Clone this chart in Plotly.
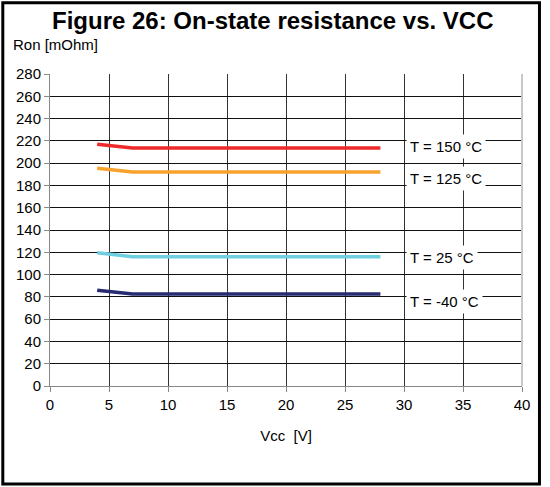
import plotly.graph_objects as go

vcc = [4, 7, 28]
ron_150 = [217, 213.5, 213.5]
ron_125 = [195.5, 192, 192]
ron_25 = [119.5, 116, 116]
ron_m40 = [86, 82.5, 82.5]

series = [
    ("T = 150 °C", ron_150, "#ee2a2a", 215),
    ("T = 125 °C", ron_125, "#f7a22c", 186),
    ("T = 25 °C", ron_25, "#6fcfe0", 115),
    ("T = -40 °C", ron_m40, "#262b72", 76),
]

fig = go.Figure()
for name, ys, color, _ in series:
    fig.add_trace(go.Scatter(x=vcc, y=ys, mode="lines", name=name,
                             line=dict(color=color, width=3.5), showlegend=False))

font = "Liberation Sans, Arial, sans-serif"
ann = []
for name, ys, color, ly in series:
    ann.append(dict(x=30.2, y=ly, xref="x", yref="y", text=name, showarrow=False,
                    xanchor="left", yanchor="middle", bgcolor="white",
                    font=dict(family=font, size=15, color="black"), borderpad=3))
ann.append(dict(x=0.4725, y=1.173, xref="paper", yref="paper",
                text="<b>Figure 26: On-state resistance vs. VCC</b>", showarrow=False,
                xanchor="center", yanchor="middle", font=dict(family=font, size=24, color="black")))
ann.append(dict(x=-0.083, y=1.096, xref="paper", yref="paper", text="Ron [mOhm]",
                showarrow=False, xanchor="left", yanchor="middle",
                font=dict(family=font, size=15, color="black")))

fig.update_layout(
    width=550, height=487,
    margin=dict(l=50, r=28, t=74, b=101),
    paper_bgcolor="white", plot_bgcolor="white",
    annotations=ann,
    shapes=[dict(type="rect", xref="paper", yref="paper", x0=-0.1, x1=1.037,
                 y0=-0.314, y1=1.228, line=dict(color="black", width=3))],
    font=dict(family=font, size=15, color="black"),
)
fig.update_xaxes(range=[0, 40], tickvals=list(range(0, 41, 5)), showgrid=True,
                 gridcolor="#333333", gridwidth=1, showline=True, linecolor="#888888",
                 mirror=False, ticks="outside", ticklen=5, tickcolor="#888888",
                 title=dict(text="Vcc  [V]", font=dict(size=15), standoff=18), zeroline=False)
fig.update_yaxes(range=[0, 280], tickvals=list(range(0, 281, 20)), showgrid=True,
                 gridcolor="#111111", gridwidth=1, showline=True, linecolor="#888888",
                 ticks="outside", ticklen=5, tickcolor="#888888", zeroline=False)
fig.add_shape(type="line", xref="paper", yref="paper", x0=1, x1=1, y0=0, y1=1,
              line=dict(color="#c8c8c8", width=2))
fig.write_html("out.html", config={"displayModeBar": False},
               post_script="document.body.style.margin='0';")
